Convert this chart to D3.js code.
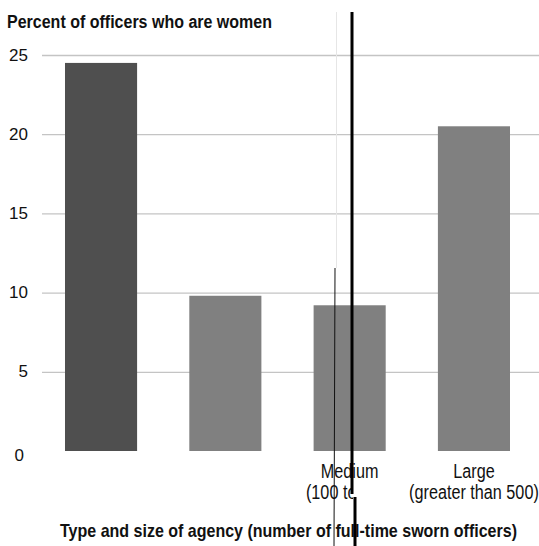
<!DOCTYPE html>
<html>
<head>
<meta charset="utf-8">
<script src="https://cdn.jsdelivr.net/npm/d3@7"></script>
<style>
  body { margin:0; background:#fff; }
  text { font-family: "Liberation Sans", Arial, sans-serif; }
</style>
</head>
<body>
<div id="chart"></div>
<script>
// data
const agencies = ["agency1", "agency2", "Medium", "Large"]
const labelLines = [[], [], ["Medium", "(100 to 499)"], ["Large", "(greater than 500)"]]
const pctWomen = [24.5, 9.8, 9.2, 20.5]
const barColors = ["#4f4f4f", "#808080", "#808080", "#808080"]
const yTicks = [0, 5, 10, 15, 20, 25]

const W = 539, H = 546

const svg = d3.select("#chart")
    .append("svg")
    .attr("width", W)
    .attr("height", H)

const data = agencies.map((a, i) => ({agency: a, value: pctWomen[i], lines: labelLines[i], color: barColors[i]}))

// scales
const x = d3.scaleBand()
    .domain(agencies)
    .range([42, 533])
    .paddingInner(.42)
    .paddingOuter(.185)

const y = d3.scaleLinear()
    .domain([0, 25])
    .range([451, 55])

// the source font is a narrow gothic, squeeze the text to its width
function narrow(sel, ratio) {
    sel.each(function() {
        const len = this.getComputedTextLength()
        d3.select(this).attr("textLength", len * ratio).attr("lengthAdjust", "spacingAndGlyphs")
    })
}

// gridlines + tick labels
const yAxis = svg.append("g")
    .attr("transform", "translate(42,0)")
    .call(d3.axisLeft(y).tickValues(yTicks).tickSize(-(W - 42)).tickPadding(14))

yAxis.select(".domain").remove()
yAxis.selectAll(".tick line")
    .attr("stroke", "#c4c4c4")
    .attr("stroke-width", 1.3)
    .filter(d => d === 0).remove()
yAxis.selectAll(".tick text")
    .style("font-family", "'Liberation Sans', Arial, sans-serif")
    .style("font-size", "17px")
    .attr("fill", "#111")
    .attr("dy", "0.3em")
yAxis.selectAll(".tick").filter(d => d === 0).select("text")
    .attr("x", -18).attr("dy", "0.55em")

// bars
svg.selectAll(".bar")
    .data(data)
    .join("rect")
    .attr("class", "bar")
    .attr("x", d => x(d.agency))
    .attr("y", d => y(d.value))
    .attr("width", x.bandwidth())
    .attr("height", d => y(0) - y(d.value))
    .attr("fill", d => d.color)

// category labels (second line of "Medium" is cut off in the source)
svg.append("clipPath").attr("id", "cut")
    .append("rect").attr("x", 0).attr("y", 0).attr("width", 353).attr("height", H)

const catText = svg.selectAll(".cat")
    .data(data.flatMap(d => d.lines.map((t, i) => ({t, i, agency: d.agency}))))
    .join("text")
    .attr("class", "cat")
    .attr("text-anchor", "middle")
    .attr("x", d => x(d.agency) + x.bandwidth()/2)
    .attr("y", d => 478 + d.i * 21)
    .attr("clip-path", d => d.agency === "Medium" && d.i === 1 ? "url(#cut)" : null)
    .style("font-size", "20px")
    .attr("fill", "#111")
    .text(d => d.t)
narrow(catText, .81)

// titles
const title = svg.append("text")
    .attr("x", 7)
    .attr("y", 28)
    .style("font-size", "18px")
    .style("font-weight", "bold")
    .attr("fill", "#111")
    .text("Percent of officers who are women")
title.attr("textLength", 265).attr("lengthAdjust", "spacingAndGlyphs")

const xTitle = svg.append("text")
    .attr("x", 60)
    .attr("y", 537)
    .style("font-size", "19px")
    .style("font-weight", "bold")
    .attr("fill", "#111")
    .text("Type and size of agency (number of full-time sworn officers)")
xTitle.attr("textLength", 457).attr("lengthAdjust", "spacingAndGlyphs")

// stray vertical strokes present in the source image
svg.append("line").attr("x1", 336.5).attr("x2", 336.5).attr("y1", 12).attr("y2", 268)
    .attr("stroke", "#e6e6e6").attr("stroke-width", 1)
svg.append("line").attr("x1", 335).attr("x2", 334).attr("y1", 268).attr("y2", H)
    .attr("stroke", "#111").attr("stroke-width", 1)
svg.append("line").attr("x1", 352).attr("x2", 352).attr("y1", 12).attr("y2", 494)
    .attr("stroke", "#000").attr("stroke-width", 3)
svg.append("line").attr("x1", 355).attr("x2", 355).attr("y1", 497).attr("y2", H)
    .attr("stroke", "#000").attr("stroke-width", 3)
</script>
</body>
</html>
